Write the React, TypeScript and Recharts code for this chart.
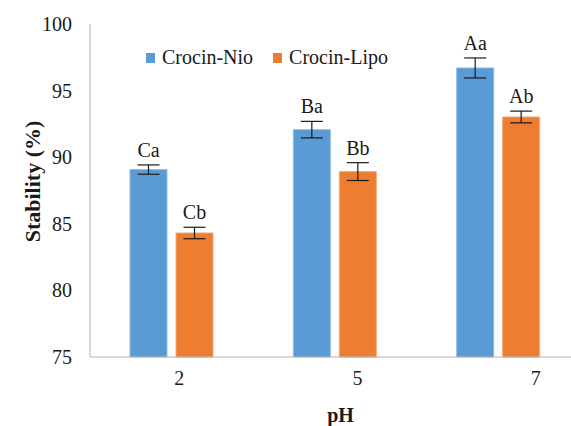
import { BarChart, Bar, XAxis, YAxis, ErrorBar, LabelList, Legend, Label } from 'recharts'

// values
const phLevels = ['2', '5', '7']
const seriesNames = ['Crocin-Nio', 'Crocin-Lipo']
const nioStability = [89.07, 92.07, 96.7]
const nioError = [0.35, 0.62, 0.75]
const nioLetters = ['Ca', 'Ba', 'Aa']
const lipoStability = [84.31, 88.92, 93.02]
const lipoError = [0.43, 0.67, 0.44]
const lipoLetters = ['Cb', 'Bb', 'Ab']
const yTicks = [75, 80, 85, 90, 95, 100]

const FONT = "'Liberation Serif', 'Times New Roman', serif"
const INK = '#1a1a1a'
const BLUE = '#5b9bd5'
const ORANGE = '#ed7d31'
const AXIS = '#b3b3b3'

const serif = { fontFamily: FONT, fontSize: 20, fill: INK }

const chartData = phLevels.map((ph, i) => ({
  ph,
  nio: nioStability[i],
  nioErr: nioError[i],
  nioTag: nioLetters[i],
  lipo: lipoStability[i],
  lipoErr: lipoError[i],
  lipoTag: lipoLetters[i]
}))

// letter above the error bar top
function makeTag(values: number[], errs: number[]) {
  return (props: any) => {
    const { x, y, width, height, value, index } = props
    const pxPerUnit = height / (values[index] - 75)
    const top = y - errs[index] * pxPerUnit
    return (
      <text x={x + width / 2} y={top - 8} textAnchor="middle" style={serif}>
        {value}
      </text>
    )
  }
}

function YTick(props: any) {
  const { x, y, payload } = props
  return (
    <text x={x} y={y + 7} textAnchor="end" style={serif}>
      {payload.value}
    </text>
  )
}

function XTick(props: any) {
  const { x, y, payload } = props
  return (
    <text x={x} y={y + 28} textAnchor="middle" style={serif}>
      {payload.value}
    </text>
  )
}

function LegendBox(props: any) {
  const items = [...(props.payload || [])].sort(
    (a: any, b: any) => seriesNames.indexOf(a.value) - seriesNames.indexOf(b.value)
  )
  return (
    <div style={{ display: 'flex', alignItems: 'center', fontFamily: FONT, fontSize: 20, color: INK, lineHeight: '23px' }}>
      {items.map((it: any) => (
        <div key={it.value} style={{ display: 'flex', alignItems: 'center', marginRight: 20 }}>
          <span style={{ width: 9, height: 10, background: it.color, display: 'inline-block', marginRight: 7 }} />
          <span>{it.value}</span>
        </div>
      ))}
    </div>
  )
}

export default function App() {
  return (
    <div style={{ position: 'absolute', left: 0, top: 0, width: 571, height: 426, overflow: 'hidden', background: '#fff', fontFamily: FONT }}>
      <BarChart
        width={625}
        height={426}
        data={chartData}
        margin={{ top: 24, right: 0, left: 0, bottom: 0 }}
        barSize={37}
        barGap={9}
      >
        <XAxis xAxisId="bars" dataKey="ph" hide height={0} padding={{ left: 0, right: 45 }} />
        <XAxis
          xAxisId="labels"
          dataKey="ph"
          height={69}
          axisLine={{ stroke: AXIS, strokeWidth: 1 }}
          tickLine={false}
          tickSize={0}
          tickMargin={0}
          tick={<XTick />}
        >
          <Label
            value="pH"
            position="insideBottom"
            offset={4}
            dx={-17}
            style={{ ...serif, fontWeight: 'bold' }}
          />
        </XAxis>
        <YAxis
          width={90}
          domain={[75, 100]}
          ticks={yTicks}
          interval={0}
          axisLine={{ stroke: AXIS, strokeWidth: 1 }}
          tickLine={false}
          tickSize={0}
          tickMargin={18}
          tick={<YTick />}
        >
          <Label
            value="Stability (%)"
            angle={-90}
            position="center"
            dx={-13}
            dy={-9}
            style={{ ...serif, fontSize: 22, fontWeight: 'bold', textAnchor: 'middle' }}
          />
        </YAxis>
        <Legend
          layout="horizontal"
          verticalAlign="middle"
          align="center"
          content={<LegendBox />}
          wrapperStyle={{ top: 46, left: 146, width: 'auto', height: 'auto' }}
        />
        <Bar xAxisId="bars" dataKey="nio" name={seriesNames[0]} fill={BLUE} stroke="#8fbde6" strokeWidth={1} isAnimationActive={false}>
          <ErrorBar dataKey="nioErr" width={11} stroke={INK} strokeWidth={1.2} direction="y" />
          <LabelList dataKey="nioTag" content={makeTag(nioStability, nioError)} />
        </Bar>
        <Bar xAxisId="bars" dataKey="lipo" name={seriesNames[1]} fill={ORANGE} stroke="#f4a878" strokeWidth={1} isAnimationActive={false}>
          <ErrorBar dataKey="lipoErr" width={11} stroke={INK} strokeWidth={1.2} direction="y" />
          <LabelList dataKey="lipoTag" content={makeTag(lipoStability, lipoError)} />
        </Bar>
      </BarChart>
    </div>
  )
}
